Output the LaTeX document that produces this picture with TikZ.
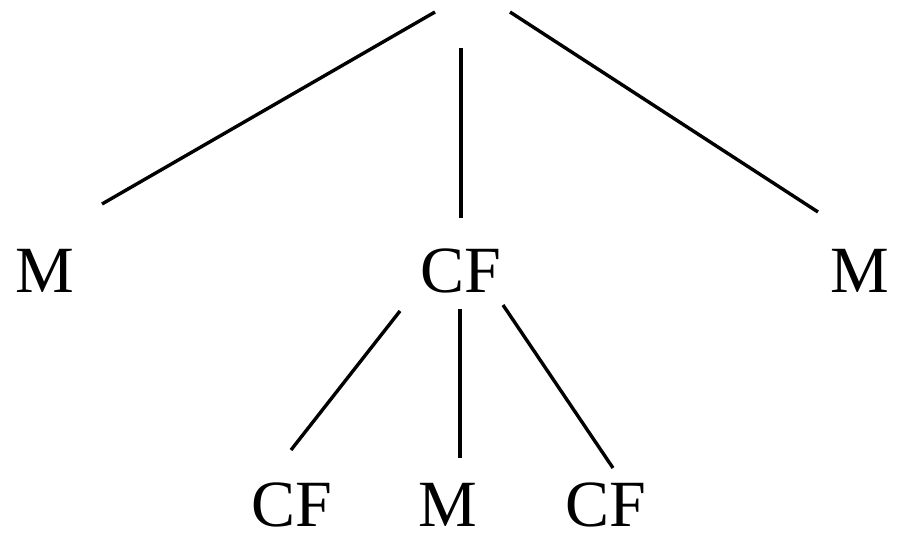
\documentclass[tikz,border=0pt]{standalone}
\usepackage{fontspec}
\setmainfont{Liberation Serif}
\begin{document}
\begin{tikzpicture}[x=1pt,y=-1pt,
  lbl/.style={inner sep=0pt,font=\fontsize{66}{66}\selectfont},
  edge/.style={line width=3.4pt}]
\useasboundingbox (0,0) rectangle (898,535);
% labels
\node[lbl] (m1) at (45,271) {M};
\node[lbl] (cf) at (461,271) {CF};
\node[lbl] (m2) at (860,271) {M};
\node[lbl] (cf1) at (292,505) {CF};
\node[lbl] (m3) at (448,505) {M};
\node[lbl] (cf2) at (606,505) {CF};
% line ends
\coordinate (r1) at (435,12);
\coordinate (r2) at (461,48);
\coordinate (r3) at (510,12);
\coordinate (e1) at (102,204);
\coordinate (e2) at (461,218);
\coordinate (e3) at (818,212);
\coordinate (s1) at (400,311);
\coordinate (s2) at (460,309);
\coordinate (s3) at (503,305);
\coordinate (t1) at (291,450);
\coordinate (t2) at (460,458);
\coordinate (t3) at (613,468);
\draw[edge] (r1) -- (e1);
\draw[edge] (r2) -- (e2);
\draw[edge] (r3) -- (e3);
\draw[edge] (s1) -- (t1);
\draw[edge] (s2) -- (t2);
\draw[edge] (s3) -- (t3);
\end{tikzpicture}
\end{document}
